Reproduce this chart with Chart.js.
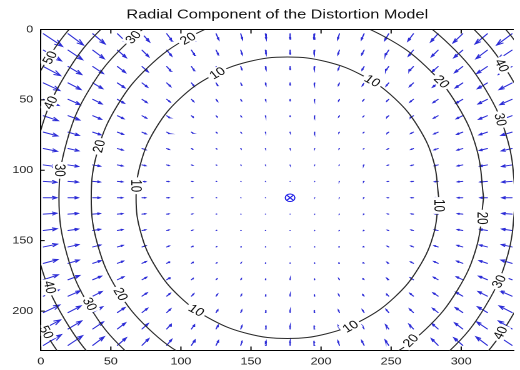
<!DOCTYPE html>
<html><head><meta charset="utf-8">
<script src="https://cdn.jsdelivr.net/npm/chart.js@4.4.1/dist/chart.umd.min.js"></script>
<style>
html,body{margin:0;padding:0;background:#fff;overflow:hidden;width:520px;height:370px;}
#wrap{position:absolute;left:0;top:0;width:416px;height:370px;transform:scale(1.25,1);transform-origin:0 0;}
</style></head><body>
<div id="wrap"><canvas id="c" width="416" height="370"></canvas></div>
<script>
// ---------------- data ----------------
const titleText = 'Radial Component of the Distortion Model';
const xTicks = [0, 50, 100, 150, 200, 250, 300];
const yTicks = [0, 50, 100, 150, 200];
const xRange = [0, 337.5];
const yRange = [0, 228];
const principalPoint = [177.9, 119.5];

// quiver grid (pixel coordinates of arrow tails)
const gridX = [1.9,19.5,37.1,54.7,72.3,89.9,107.5,125.1,142.7,160.3,177.9,195.5,213.1,230.7,248.3,265.9,283.5,301.1,318.7,336.3];
const gridY = [3,14.65,26.3,37.95,49.6,61.25,72.9,84.55,96.2,107.85,119.5,131.15,142.8,154.45,166.1,177.75,189.4,201.05,212.7,224.35];

// radial distortion magnitude (pixels) at every grid node, row = gridY, column = gridX
const distortion = [
[60.4,50.6,42.3,35.2,29.3,24.5,20.8,18.0,16.0,14.9,14.5,14.9,16.0,18.0,20.8,24.5,29.3,35.2,42.3,50.6],
[55.4,45.9,37.7,30.9,25.2,20.6,17.0,14.3,12.5,11.4,11.0,11.4,12.5,14.3,17.0,20.6,25.2,30.9,37.7,45.9],
[51.1,41.8,33.8,27.1,21.6,17.2,13.8,11.2,9.5,8.5,8.1,8.5,9.5,11.2,13.8,17.2,21.6,27.1,33.8,41.8],
[47.4,38.2,30.4,23.9,18.5,14.3,11.0,8.6,7.0,6.0,5.7,6.0,7.0,8.6,11.0,14.3,18.5,23.9,30.4,38.2],
[44.2,35.2,27.5,21.2,16.0,11.9,8.8,6.5,5.0,4.1,3.9,4.1,5.0,6.5,8.8,11.9,16.0,21.2,27.5,35.2],
[41.5,32.6,25.1,18.9,13.9,10.0,7.0,4.8,3.4,2.7,2.4,2.7,3.4,4.8,7.0,10.0,13.9,18.9,25.1,32.6],
[39.4,30.6,23.2,17.2,12.3,8.4,5.6,3.6,2.3,1.6,1.3,1.6,2.3,3.6,5.6,8.4,12.3,17.2,23.2,30.6],
[37.7,29.1,21.8,15.8,11.0,7.3,4.6,2.7,1.5,0.8,0.6,0.8,1.5,2.7,4.6,7.3,11.0,15.8,21.8,29.1],
[36.5,27.9,20.8,14.9,10.1,6.5,3.8,2.0,0.9,0.4,0.2,0.4,0.9,2.0,3.8,6.5,10.1,14.9,20.8,27.9],
[35.8,27.3,20.1,14.3,9.6,6.0,3.4,1.7,0.6,0.2,0.0,0.2,0.6,1.7,3.4,6.0,9.6,14.3,20.1,27.3],
[35.6,27.1,19.9,14.1,9.4,5.9,3.3,1.6,0.5,0.1,0.0,0.1,0.5,1.6,3.3,5.9,9.4,14.1,19.9,27.1],
[35.8,27.3,20.1,14.3,9.6,6.0,3.4,1.7,0.6,0.2,0.0,0.2,0.6,1.7,3.4,6.0,9.6,14.3,20.1,27.3],
[36.5,27.9,20.8,14.9,10.1,6.5,3.8,2.0,0.9,0.4,0.2,0.4,0.9,2.0,3.8,6.5,10.1,14.9,20.8,27.9],
[37.7,29.1,21.8,15.8,11.0,7.3,4.6,2.7,1.5,0.8,0.6,0.8,1.5,2.7,4.6,7.3,11.0,15.8,21.8,29.1],
[39.4,30.6,23.2,17.2,12.3,8.4,5.6,3.6,2.3,1.6,1.3,1.6,2.3,3.6,5.6,8.4,12.3,17.2,23.2,30.6],
[41.5,32.6,25.1,18.9,13.9,10.0,7.0,4.8,3.4,2.7,2.4,2.7,3.4,4.8,7.0,10.0,13.9,18.9,25.1,32.6],
[44.2,35.2,27.5,21.2,16.0,11.9,8.8,6.5,5.0,4.1,3.9,4.1,5.0,6.5,8.8,11.9,16.0,21.2,27.5,35.2],
[47.4,38.2,30.4,23.9,18.5,14.3,11.0,8.6,7.0,6.0,5.7,6.0,7.0,8.6,11.0,14.3,18.5,23.9,30.4,38.2],
[51.1,41.8,33.8,27.1,21.6,17.2,13.8,11.2,9.5,8.5,8.1,8.5,9.5,11.2,13.8,17.2,21.6,27.1,33.8,41.8],
[55.4,45.9,37.7,30.9,25.2,20.6,17.0,14.3,12.5,11.4,11.0,11.4,12.5,14.3,17.0,20.6,25.2,30.9,37.7,45.9]
];

// iso-distortion contours
const contourLevels = [10, 20, 30, 40, 50];
const contour10 = [[284,119.5],[280.3,93.6],[269.5,69.5],[252.4,48.8],[230,32.9],[204,22.9],[176,19.5],[148,22.9],[122,32.9],[99.6,48.8],[82.5,69.5],[71.7,93.6],[68,119.5],[71.7,145.4],[82.5,169.5],[99.6,190.2],[122,206.1],[148,216.1],[176,219.5],[204,216.1],[230,206.1],[252.4,190.2],[269.5,169.5],[280.3,145.4],[284,119.5]];
const contour20 = [[316,119.5],[311.2,85.4],[297.2,53.7],[275,26.4],[246,5.5],[212.2,-7.6],[176,-12.1],[139.8,-7.6],[106,5.5],[77,26.4],[54.8,53.7],[40.8,85.4],[36,119.5],[40.8,153.6],[54.8,185.3],[77,212.6],[106,233.5],[139.8,246.6],[176,251.1],[212.2,246.6],[246,233.5],[275,212.6],[297.2,185.3],[311.2,153.6],[316,119.5]];
const contour30 = [[339,119.5],[333.4,79.5],[317.2,42.3],[291.3,10.4],[257.5,-14.1],[218.2,-29.5],[176,-34.8],[133.8,-29.5],[94.5,-14.1],[60.7,10.4],[34.8,42.3],[18.6,79.5],[13,119.5],[18.6,159.5],[34.8,196.7],[60.7,228.6],[94.5,253.1],[133.8,268.5],[176,273.8],[218.2,268.5],[257.5,253.1],[291.3,228.6],[317.2,196.7],[333.4,159.5],[339,119.5]];
const contour40 = [[359,119.5],[352.8,74.4],[334.5,32.3],[305.4,-3.7],[267.5,-31.5],[223.4,-48.9],[176,-54.8],[128.6,-48.9],[84.5,-31.5],[46.6,-3.7],[17.5,32.3],[-0.8,74.4],[-7,119.5],[-0.8,164.6],[17.5,206.7],[46.6,242.7],[84.5,270.5],[128.6,287.9],[176,293.8],[223.4,287.9],[267.5,270.5],[305.4,242.7],[334.5,206.7],[352.8,164.6],[359,119.5]];
const contour50 = [[376,119.5],[369.2,70.3],[349.2,24.5],[317.4,-14.8],[276,-45],[227.8,-64],[176,-70.5],[124.2,-64],[76,-45],[34.6,-14.8],[2.8,24.5],[-17.2,70.3],[-24,119.5],[-17.2,168.7],[2.8,214.5],[34.6,253.8],[76,284],[124.2,303],[176,309.5],[227.8,303],[276,284],[317.4,253.8],[349.2,214.5],[369.2,168.7],[376,119.5]];
const contours = [contour10, contour20, contour30, contour40, contour50];

// contour labels
const labelText = ['10','10','10','10','10','10','20','20','20','20','20','20','30','30','30','30','30','40','40','40','40','50','50'];
const labelX = [126,236.6,68,284,111,221, 105,286,41.6,315,57,264, 66,328,13.5,327,35, 7,329,6.5,328, 6.5,4];
const labelY = [31,36.5,111,125,199.5,211, 6.5,37,83,134,188,221, 5.5,64,100,179,195, 52,25.5,183,215.5, 20,215];

// ---------------- drawing ----------------
const ARROW_SCALE = 0.27, HEAD_A = 0.33, HEAD_B = 0.33;
const FONT = '"Liberation Sans", Arial, Helvetica, sans-serif';

const quiver = [];
gridY.forEach((gy, r) => {
  gridX.forEach((gx, c) => {
    const vx = principalPoint[0] - gx, vy = principalPoint[1] - gy;
    const len = Math.hypot(vx, vy);
    if (len === 0) return;
    const L = ARROW_SCALE * distortion[r][c];
    const u = vx / len * L, v = vy / len * L;
    const hx = gx + u, hy = gy + v;
    quiver.push({x: gx, y: gy}, {x: hx, y: hy}, {x: null, y: null});
    quiver.push({x: hx - HEAD_A * (u + HEAD_B * v), y: hy - HEAD_A * (v - HEAD_B * u)},
                {x: hx, y: hy},
                {x: hx - HEAD_A * (u - HEAD_B * v), y: hy - HEAD_A * (v + HEAD_B * u)},
                {x: null, y: null});
  });
});

const toXY = pts => pts.map(p => ({x: p[0], y: p[1]}));

const datasets = [
  {data: [{x: principalPoint[0], y: principalPoint[1]}], pointStyle: 'circle', pointRadius: 3.8,
   pointBorderColor: '#1a1ae6', pointBackgroundColor: 'rgba(0,0,0,0)', pointBorderWidth: 1, showLine: false},
  {data: [{x: principalPoint[0], y: principalPoint[1]}], pointStyle: 'crossRot', pointRadius: 3.4,
   pointBorderColor: '#1a1ae6', pointBorderWidth: 1, showLine: false}
];
contours.forEach((pts, i) => {
  datasets.push({label: 'level ' + contourLevels[i], data: toXY(pts), showLine: true, pointRadius: 0,
    borderColor: '#2a2a2a', borderWidth: 1, tension: 0.4, fill: false});
});
datasets.push({label: 'quiver', data: quiver, showLine: true, pointRadius: 0, spanGaps: false,
  borderColor: 'rgb(45,45,215)', borderWidth: 1, tension: 0, borderCapStyle: 'round', fill: false});

const framePlugin = {
  id: 'frame',
  afterDatasetsDraw(chart) {
    const {ctx, chartArea: a, scales: {x, y}} = chart;
    ctx.save();
    ctx.beginPath(); ctx.rect(a.left, a.top, a.right - a.left, a.bottom - a.top); ctx.clip();
    ctx.font = '11.5px ' + FONT;
    ctx.textAlign = 'center'; ctx.textBaseline = 'middle';
    labelText.forEach((t, i) => {
      const pts = contours[contourLevels.indexOf(+t)];
      const n = pts.length - 1;
      const px = x.getPixelForValue(labelX[i]), py = y.getPixelForValue(labelY[i]);
      let best = 0, bd = Infinity;
      for (let k = 0; k < n; k++) {
        const dx = x.getPixelForValue(pts[k][0]) - px, dy = y.getPixelForValue(pts[k][1]) - py;
        const dd = dx * dx + dy * dy;
        if (dd < bd) { bd = dd; best = k; }
      }
      const p0 = pts[(best - 1 + n) % n], p1 = pts[(best + 1) % n];
      let ang = Math.atan2(y.getPixelForValue(p1[1]) - y.getPixelForValue(p0[1]),
                           x.getPixelForValue(p1[0]) - x.getPixelForValue(p0[0]));
      if (ang > Math.PI / 2) ang -= Math.PI;
      if (ang <= -Math.PI / 2) ang += Math.PI;
      ctx.save(); ctx.translate(px, py); ctx.rotate(ang);
      const w = ctx.measureText(t).width;
      ctx.fillStyle = '#fff'; ctx.fillRect(-w / 2 - 2, -5.5, w + 4, 11);
      ctx.fillStyle = '#111'; ctx.fillText(t, 0, 0.5);
      ctx.restore();
    });
    ctx.restore();
    // box + inward ticks
    ctx.save();
    ctx.strokeStyle = '#000'; ctx.lineWidth = 1;
    ctx.beginPath();
    ctx.moveTo(a.left, a.top); ctx.lineTo(a.right, a.top);
    xTicks.forEach(v => {
      const p = x.getPixelForValue(v);
      ctx.moveTo(p, a.bottom); ctx.lineTo(p, a.bottom - 4);
      ctx.moveTo(p, a.top); ctx.lineTo(p, a.top + 4);
    });
    yTicks.forEach(v => {
      const p = y.getPixelForValue(v);
      ctx.moveTo(a.left, p); ctx.lineTo(a.left + 3.2, p);
    });
    ctx.stroke();
    ctx.restore();
  }
};

new Chart(document.getElementById('c'), {
  type: 'scatter',
  data: {datasets},
  options: {
    responsive: false, animation: false, devicePixelRatio: 2, events: [],
    layout: {padding: 0},
    elements: {line: {capBezierPoints: false}},
    plugins: {
      legend: {display: false}, tooltip: {enabled: false},
      title: {display: true, text: titleText, color: '#111', fullSize: false,
        font: {family: FONT, size: 13, weight: 'normal'}, padding: {top: 7, bottom: 6.9}}
    },
    scales: {
      x: {type: 'linear', position: 'bottom', min: xRange[0], max: xRange[1],
        afterBuildTicks: s => { s.ticks = xTicks.map(v => ({value: v})); },
        afterFit: s => { s.height = 19.5; },
        ticks: {padding: 5, autoSkip: false, maxRotation: 0, color: '#222', font: {family: FONT, size: 10},
          callback: v => String(v)},
        grid: {display: false, drawTicks: false, tickLength: 0},
        border: {display: true, color: '#000', width: 1}},
      y: {type: 'linear', position: 'left', reverse: true, min: yRange[0], max: yRange[1],
        afterBuildTicks: s => { s.ticks = yTicks.map(v => ({value: v})); },
        afterFit: s => { s.width = 32.6; },
        ticks: {padding: 6, autoSkip: false, color: '#222', font: {family: FONT, size: 10},
          callback: v => String(v)},
        grid: {display: false, drawTicks: false, tickLength: 0},
        border: {display: true, color: '#000', width: 1}}
    }
  },
  plugins: [framePlugin]
});
</script>
</body></html>
